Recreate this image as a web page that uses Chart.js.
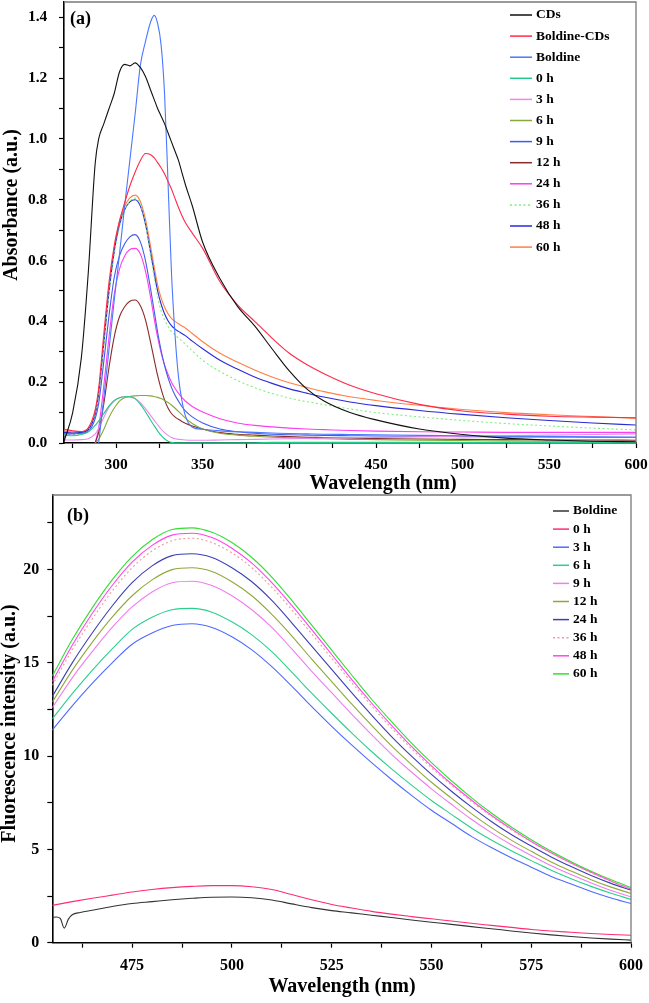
<!DOCTYPE html>
<html>
<head>
<meta charset="utf-8">
<script src="https://cdn.jsdelivr.net/npm/chart.js@4.4.1/dist/chart.umd.min.js"></script>
<style>
html,body{margin:0;padding:0;background:#fff;}
#wrap{position:relative;width:649px;height:1003px;overflow:hidden;background:#fff;}
canvas{position:absolute;left:0;}
#ca{top:0;}
#cb{top:494px;}
</style>
</head>
<body>
<div id="wrap">
<canvas id="ca" width="649" height="496"></canvas>
<canvas id="cb" width="649" height="509"></canvas>
</div>
<script>
// ---------- Panel (a): absorbance ----------
const wlA = [270,275,280,284,288,290,293,296,299,302,305,308,311,314,317,320,322,324,326,328,330,332,334,336,338,340,344,350,360,370,380,390,400,410,420,435,450,475,500,525,550,575,600];
const absCDs = [0.005,0.1,0.28,0.56,0.92, 1.0,1.05,1.1,1.15,1.22, 1.245,1.24,1.25,1.235,1.205, 1.16,1.13,1.1,1.075,1.05, 1.02,0.99,0.96,0.93,0.89, 0.85,0.78,0.66,0.54,0.45, 0.385,0.31,0.237,0.178,0.138, 0.1,0.076,0.046,0.028,0.016, 0.01,0.006,0.004];
const absBoldineCDs = [0.045,0.04,0.038,0.05,0.11, 0.18,0.36,0.53,0.65,0.73, 0.79,0.845,0.89,0.928,0.952, 0.948,0.938,0.922,0.905,0.885, 0.86,0.835,0.805,0.775,0.748, 0.725,0.69,0.64,0.53,0.455, 0.4,0.345,0.295,0.258,0.228, 0.19,0.162,0.127,0.105,0.095, 0.088,0.085,0.083];
const absBoldine = [null,null,null,null,null, 0,0.15,0.31,0.47,0.62, 0.78,0.93,1.08,1.24,1.32, 1.385,1.406,1.38,1.31,1.15, 0.86,0.56,0.36,0.22,0.14, 0.09,0.052,0.045,0.04,0.037, 0.035,0.033,0.031,0.03,0.029, 0.028,0.027,0.025,0.024,0.022, 0.021,0.02,0.019];
const abs0h = [0.025,0.024,0.028,0.037,0.058, 0.072,0.097,0.122,0.14,0.149, 0.152,0.152,0.146,0.128,0.103, 0.075,0.057,0.04,0.025,0.014, 0.006,0.002,0.001,0.001,0.001, 0.001,0.001,0.001,0.001,0.001, 0.001,0.002,0.002,0.002,0.002, 0.002,0.002,0.002,0.002,0.002, 0.002,0.002,0.002];
const abs3h = [0.01,0.01,0.011,0.014,0.03, 0.048,0.085,0.118,0.138,0.149, 0.152,0.151,0.146,0.133,0.113, 0.09,0.075,0.06,0.046,0.034, 0.025,0.018,0.014,0.012,0.011, 0.01,0.009,0.009,0.01,0.011, 0.012,0.013,0.014,0.015,0.016, 0.017,0.018,0.02,0.022,0.024, 0.026,0.028,0.03];
const abs6h = [null,null,null,null,0, 0.012,0.045,0.085,0.115,0.138, 0.149,0.153,0.155,0.156,0.156, 0.155,0.153,0.15,0.146,0.14, 0.133,0.125,0.115,0.104,0.093, 0.082,0.064,0.046,0.032,0.026, 0.022,0.019,0.017,0.015,0.014, 0.012,0.011,0.009,0.008,0.007, 0.006,0.005,0.005];
const abs9h = [0.03,0.03,0.032,0.038,0.08, 0.13,0.27,0.42,0.545,0.615, 0.655,0.678,0.685,0.662,0.6, 0.505,0.435,0.365,0.305,0.255, 0.215,0.183,0.158,0.138,0.12, 0.106,0.086,0.066,0.046,0.037, 0.032,0.029,0.027,0.026,0.025, 0.024,0.023,0.022,0.021,0.02, 0.02,0.019,0.019];
const abs12h = [null,null,null,null,0, 0.035,0.13,0.25,0.35,0.415, 0.448,0.466,0.47,0.452,0.405, 0.33,0.275,0.222,0.178,0.142, 0.115,0.097,0.086,0.078,0.071, 0.065,0.056,0.046,0.034,0.029, 0.026,0.023,0.021,0.019,0.018, 0.016,0.015,0.013,0.012,0.011, 0.01,0.01,0.009];
const abs24h = [null,null,null,null,0, 0.05,0.19,0.35,0.49,0.572, 0.615,0.636,0.64,0.622,0.565, 0.478,0.41,0.348,0.297,0.257, 0.226,0.2,0.18,0.164,0.15, 0.138,0.12,0.102,0.08,0.066, 0.058,0.053,0.049,0.046,0.044, 0.041,0.039,0.037,0.036,0.035, 0.035,0.035,0.035];
const abs36h = [0.028,0.028,0.03,0.04,0.09, 0.16,0.32,0.49,0.62,0.71, 0.765,0.795,0.805,0.785,0.72, 0.615,0.545,0.48,0.435,0.405, 0.383,0.367,0.355,0.345,0.336, 0.325,0.303,0.272,0.235,0.206, 0.182,0.163,0.148,0.136,0.126, 0.112,0.1,0.086,0.074,0.064, 0.056,0.049,0.043];
const abs48h = [0.035,0.033,0.035,0.044,0.095, 0.165,0.33,0.5,0.63,0.718, 0.767,0.793,0.8,0.78,0.72, 0.625,0.56,0.5,0.457,0.425, 0.402,0.386,0.375,0.367,0.36, 0.353,0.335,0.31,0.272,0.243, 0.217,0.196,0.178,0.164,0.151, 0.135,0.123,0.107,0.094,0.083, 0.074,0.066,0.059];
const abs60h = [0.04,0.036,0.036,0.045,0.097, 0.168,0.335,0.505,0.638,0.728, 0.778,0.806,0.815,0.795,0.736, 0.645,0.58,0.52,0.477,0.447, 0.425,0.41,0.4,0.392,0.385, 0.378,0.36,0.333,0.295,0.266, 0.24,0.217,0.198,0.183,0.169, 0.152,0.14,0.124,0.11,0.1, 0.093,0.087,0.081];
const labelsA = ['CDs','Boldine-CDs','Boldine','0 h','3 h','6 h','9 h','12 h','24 h','36 h','48 h','60 h'];

// ---------- Panel (b): fluorescence ----------
const wlB = [455,460,465,470,475,480,485,490,495,500,505,510,515,520,525,530,535,540,545,550,555,560,565,570,575,580,585,590,595,600];
const wlBoldineB = [455,456,457,458,459,460,462,465,470,475,480,485,490,495,500,505,510,515,520,525,530,535,540,545,550,555,560,565,570,575,580,585,590,595,600];
const flBoldine = [1.35,1.38,1.3,0.78,1.25,1.5,1.62,1.74,1.94,2.1,2.2,2.3,2.38,2.44,2.45,2.41,2.29,2.08,1.88,1.72,1.6,1.47,1.35,1.22,1.1,0.98,0.86,0.75,0.63,0.52,0.42,0.33,0.25,0.19,0.14];
const fl0h = [2.0,2.2,2.38,2.55,2.72,2.85,2.95,3.02,3.06,3.06,3.0,2.85,2.58,2.3,2.05,1.86,1.68,1.53,1.4,1.28,1.16,1.04,0.93,0.82,0.71,0.63,0.56,0.49,0.44,0.4];
const fl3h = [11.4,12.7,13.9,15.0,16.0,16.6,17.0,17.1,16.9,16.4,15.7,14.8,13.75,12.65,11.6,10.6,9.65,8.75,7.9,7.1,6.4,5.7,5.1,4.55,4.05,3.55,3.15,2.75,2.4,2.1];
const fl6h = [12.0,13.35,14.6,15.75,16.8,17.45,17.85,17.92,17.72,17.2,16.5,15.6,14.5,13.38,12.3,11.25,10.25,9.32,8.45,7.62,6.88,6.15,5.5,4.93,4.4,3.88,3.43,3.02,2.65,2.32];
const fl9h = [12.6,14.2,15.6,16.9,18.0,18.8,19.3,19.38,19.15,18.6,17.85,16.9,15.75,14.55,13.4,12.25,11.15,10.1,9.15,8.25,7.42,6.62,5.9,5.25,4.68,4.12,3.65,3.2,2.8,2.46];
const fl12h = [12.9,14.6,16.1,17.45,18.6,19.45,20.0,20.1,19.9,19.35,18.6,17.6,16.45,15.2,14.0,12.8,11.65,10.55,9.55,8.6,7.75,6.92,6.17,5.5,4.9,4.33,3.84,3.38,2.98,2.64];
const fl24h = [13.2,15.0,16.6,18.05,19.3,20.2,20.75,20.85,20.65,20.1,19.35,18.35,17.15,15.9,14.65,13.4,12.2,11.05,10.0,9.02,8.12,7.28,6.5,5.8,5.18,4.6,4.08,3.6,3.18,2.82];
const fl36h = [13.8,15.7,17.35,18.85,20.1,21.0,21.55,21.68,21.45,20.9,20.1,19.05,17.85,16.55,15.25,13.95,12.7,11.5,10.4,9.38,8.45,7.58,6.78,6.05,5.4,4.8,4.25,3.75,3.3,2.88];
const fl48h = [14.0,15.95,17.65,19.15,20.4,21.3,21.85,21.95,21.72,21.15,20.35,19.3,18.08,16.78,15.45,14.12,12.85,11.65,10.52,9.48,8.52,7.65,6.83,6.1,5.43,4.82,4.27,3.77,3.3,2.88];
const fl60h = [14.3,16.25,17.95,19.45,20.7,21.6,22.15,22.24,22.0,21.45,20.65,19.6,18.35,17.02,15.68,14.35,13.05,11.85,10.7,9.65,8.68,7.78,6.95,6.2,5.52,4.9,4.34,3.83,3.37,2.96];
const labelsB = ['Boldine','0 h','3 h','6 h','9 h','12 h','24 h','36 h','48 h','60 h'];

// tick settings (minor step, labelled every)
const ticksA_y = {min:0, max:1.45, step:0.1, every:0.2};
const ticksA_x = {min:270, max:600, step:25, every:50};
const ticksB_y = {min:0, max:24, step:2.5, every:5};
const ticksB_x = {min:455, max:600, step:12.5, every:25};

Chart.defaults.font.family = '"Liberation Serif", "Times New Roman", serif';
Chart.defaults.color = '#000';

function pts(xs, ys){ return xs.map((x,i)=>({x:x, y:ys[i]})); }

const decor = {
  id:'decor',
  afterDraw(chart, args, o){
    const ctx = chart.ctx, a = chart.chartArea;
    ctx.save();
    ctx.strokeStyle = '#7a7a7a'; ctx.lineWidth = 1.3;
    ctx.beginPath(); ctx.moveTo(a.left, a.top); ctx.lineTo(a.right, a.top); ctx.lineTo(a.right, a.bottom); ctx.stroke();
    ctx.fillStyle = '#000'; ctx.textBaseline = 'middle'; ctx.textAlign = 'left';
    ctx.font = 'bold 18px "Liberation Serif"';
    ctx.fillText(o.panel, o.panelX, o.panelY);
    ctx.font = 'bold 20px "Liberation Serif"'; ctx.textAlign = 'center';
    ctx.fillText(o.xTitle, o.xTitleX, o.xTitleY);
    ctx.save(); ctx.translate(o.yTitleX, o.yTitleY); ctx.rotate(-Math.PI/2); ctx.fillText(o.yTitle, 0, 0); ctx.restore();
    ctx.font = 'bold 13.5px "Liberation Serif"'; ctx.textAlign = 'left';
    chart.data.datasets.forEach((ds,i)=>{
      const y = o.legY + i*o.legDy;
      ctx.strokeStyle = ds.borderColor; ctx.lineWidth = 1.5; ctx.setLineDash(ds.borderDash || []);
      ctx.beginPath(); ctx.moveTo(o.legX1, y); ctx.lineTo(o.legX2, y); ctx.stroke();
      ctx.setLineDash([]);
      ctx.fillText(ds.label, o.legTextX, y);
    });
    ctx.restore();
  }
};

function axis(t, size, pad, fit, isX, decimals){
  return {
    type:'linear', min:t.min, max:t.max,
    ticks:{stepSize:t.step, includeBounds:false, autoSkip:false, maxRotation:0, padding:pad, color:'#000',
      font:{size:size, weight:'bold'},
      callback:(v)=>{ const r = v / t.every; return Math.abs(r - Math.round(r)) < 1e-6 ? v.toFixed(decimals) : ''; }},
    grid:{display:true, drawOnChartArea:false, drawTicks:true, tickLength:5, color:'#000', tickWidth:1.2},
    border:{display:true, color:'#000', width:1.6},
    title:{display:false},
    afterFit:(s)=>{
      if(isX){ s.height = fit; } else { s.width = fit; }
      s.paddingTop = 0; s.paddingBottom = 0; s.paddingLeft = 0; s.paddingRight = 0;
    }
  };
}

function mkDatasets(labels, colors, xsList, ysList, dashIdx){
  return labels.map((lab,i)=>({
    label:lab, data:pts(xsList[i], ysList[i]), borderColor:colors[i], backgroundColor:colors[i],
    borderWidth:1.1, pointRadius:0, fill:false, cubicInterpolationMode:'monotone', spanGaps:false,
    borderDash: i===dashIdx ? [2,2.5] : []
  }));
}

const colorsA = ['#111111','#ff2a4a','#4a78ff','#22c98a','#e88af0','#86a83c','#3f5bec','#8b2a2a','#ff3cf0','#7cf07c','#2a2ad8','#ff7f45'];
const seriesA = [absCDs,absBoldineCDs,absBoldine,abs0h,abs3h,abs6h,abs9h,abs12h,abs24h,abs36h,abs48h,abs60h];

new Chart(document.getElementById('ca'), {
  type:'line',
  data:{datasets: mkDatasets(labelsA, colorsA, seriesA.map(()=>wlA), seriesA, 9)},
  options:{
    responsive:false, animation:false, events:[],
    layout:{padding:{left:0, top:2, right:13, bottom:0}},
    scales:{ x: axis(ticksA_x, 15.5, 7.5, 53, true, 0), y: axis(ticksA_y, 15.5, 11.7, 64, false, 1) },
    plugins:{ legend:{display:false}, tooltip:{enabled:false},
      decor:{panel:'(a)', panelX:70, panelY:19.5, xTitle:'Wavelength (nm)', xTitleX:383, xTitleY:483.5,
        yTitle:'Absorbance (a.u.)', yTitleX:11.4, yTitleY:205,
        legX1:510, legX2:532, legTextX:536, legY:15, legDy:21.1}
    }
  },
  plugins:[decor]
});

const colorsB = ['#333333','#ff2d6f','#4d6bff','#2ccf8f','#ee7df0','#8fa83a','#3c40b4','#f09a9a','#ff44ee','#33dd33'];
const seriesB = [flBoldine,fl0h,fl3h,fl6h,fl9h,fl12h,fl24h,fl36h,fl48h,fl60h];
const xsB = seriesB.map((s,i)=> i===0 ? wlBoldineB : wlB);

new Chart(document.getElementById('cb'), {
  type:'line',
  data:{datasets: mkDatasets(labelsB, colorsB, xsB, seriesB, 7)},
  options:{
    responsive:false, animation:false, events:[],
    layout:{padding:{left:0, top:1, right:18, bottom:0}},
    scales:{ x: axis(ticksB_x, 16, 9, 60.3, true, 0), y: axis(ticksB_y, 16, 8, 52.3, false, 0) },
    plugins:{ legend:{display:false}, tooltip:{enabled:false},
      decor:{panel:'(b)', panelX:67, panelY:22, xTitle:'Wavelength (nm)', xTitleX:342, xTitleY:492.5,
        yTitle:'Fluorescence intensity (a.u.)', yTitleX:9.5, yTitleY:229.5,
        legX1:553, legX2:569, legTextX:573, legY:17, legDy:18.1}
    }
  },
  plugins:[decor]
});
</script>
</body>
</html>
